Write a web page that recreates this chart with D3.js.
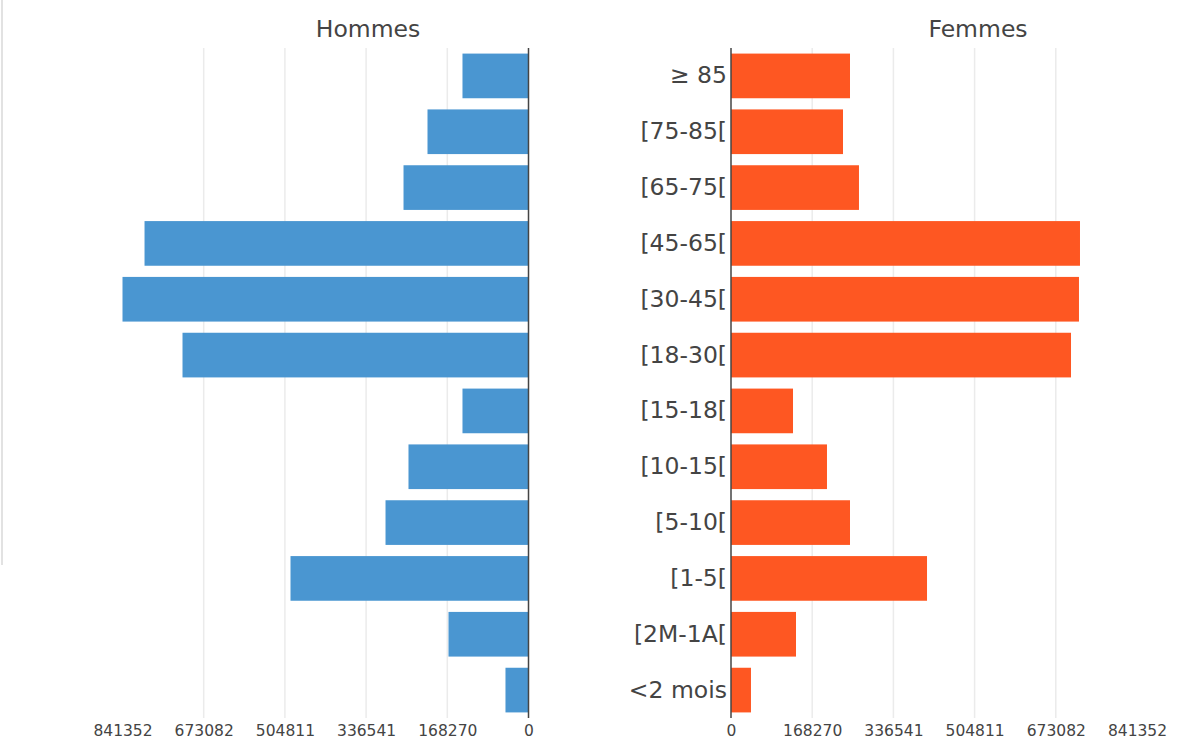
<!DOCTYPE html>
<html>
<head>
<meta charset="utf-8">
<script src="https://cdn.jsdelivr.net/npm/d3@7"></script>
<style>
  html, body { margin: 0; padding: 0; background: #fff; }
  svg { display: block; font-family: "DejaVu Sans", Verdana, sans-serif; }
</style>
</head>
<body>
<svg id="chart" width="1179" height="740"></svg>
<script>
// Age groups, oldest at the top
const categories = ["≥ 85", "[75-85[", "[65-75[", "[45-65[", "[30-45[", "[18-30[",
                    "[15-18[", "[10-15[", "[5-10[", "[1-5[", "[2M-1A[", "<2 mois"];
const hommes = [136800, 209300, 259000, 795700, 841352, 717000,
                136800, 248700, 296300, 493200, 165800, 47700];
const femmes = [246600, 232100, 265200, 723200, 721100, 704600,
                128500, 198900, 246600, 406200, 134700, 41400];
const tickValues = [0, 168270, 336541, 504811, 673082, 841352];
const maxValue = 841352;

const svg = d3.select("#chart");
const textColor = "#444";

// thin frame edge on the far left
svg.append("line")
  .attr("x1", 2).attr("x2", 2).attr("y1", 0).attr("y2", 565)
  .attr("stroke", "#e2e2e2").attr("stroke-width", 2);

const y = d3.scaleBand()
  .domain(categories)
  .range([48, 718])
  .paddingInner(0.2)
  .paddingOuter(0.1);

const xLeft = d3.scaleLinear().domain([0, maxValue]).range([528.5, 122.5]);
const xRight = d3.scaleLinear().domain([0, maxValue]).range([731, 1137]);

function panel(x, values, color, title, titleX) {
  const g = svg.append("g");

  // vertical grid lines
  g.selectAll("line.grid")
    .data(tickValues.slice(1, -1))
    .join("line")
    .attr("class", "grid")
    .attr("x1", d => x(d)).attr("x2", d => x(d))
    .attr("y1", 48).attr("y2", 718)
    .attr("stroke", "#ebebeb").attr("stroke-width", 1.5);

  // bars
  g.selectAll("rect.bar")
    .data(values)
    .join("rect")
    .attr("class", "bar")
    .attr("x", d => Math.min(x(0), x(d)))
    .attr("width", d => Math.abs(x(d) - x(0)))
    .attr("y", (d, i) => y(categories[i]))
    .attr("height", y.bandwidth())
    .attr("fill", color);

  // zero line
  g.append("line")
    .attr("x1", x(0)).attr("x2", x(0))
    .attr("y1", 48).attr("y2", 718)
    .attr("stroke", textColor).attr("stroke-width", 1.5);

  // value axis
  const axis = g.append("g")
    .attr("transform", "translate(0,721)")
    .call(d3.axisBottom(x).tickValues(tickValues).tickSize(0).tickPadding(4)
      .tickFormat(d3.format("d")));
  axis.select(".domain").remove();
  axis.selectAll("text")
    .attr("fill", textColor)
    .style("font-size", "15.5px")
    .style("font-family", "\"DejaVu Sans\", Verdana, sans-serif");

  // panel title
  g.append("text")
    .attr("x", titleX).attr("y", 37)
    .attr("text-anchor", "middle")
    .attr("fill", textColor)
    .style("font-size", "23.5px")
    .text(title);
}

panel(xLeft, hommes, "#4A96D1", "Hommes", 368);
panel(xRight, femmes, "#FE5722", "Femmes", 978);

// age group labels beside the right-hand zero line
const cat = svg.append("g")
  .attr("transform", `translate(${xRight(0)},0)`)
  .call(d3.axisLeft(y).tickSize(0).tickPadding(4));
cat.select(".domain").remove();
cat.selectAll("text")
  .attr("fill", textColor)
  .style("font-size", "23.5px")
  .style("font-family", "\"DejaVu Sans\", Verdana, sans-serif");
</script>
</body>
</html>
